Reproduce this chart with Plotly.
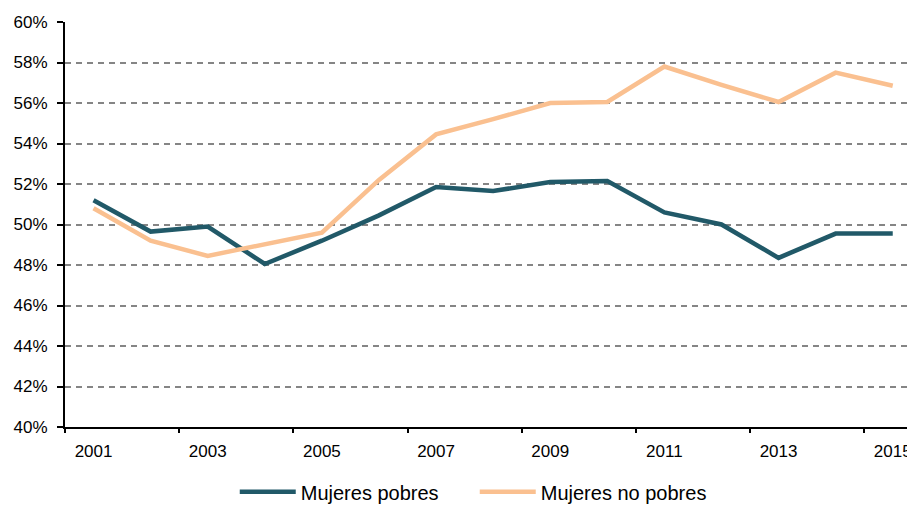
import plotly.graph_objects as go

years = list(range(2001, 2016))
pobres = [51.2, 49.65, 49.9, 48.05, 49.2, 50.45, 51.85, 51.65, 52.1, 52.15, 50.6, 50.0, 48.35, 49.55, 49.55]
no_pobres = [50.8, 49.2, 48.45, 49.0, 49.6, 52.2, 54.45, 55.2, 56.0, 56.05, 57.8, 56.9, 56.05, 57.5, 56.85]
tick_labels = [str(y) for y in years[::2]]
y_ticks = list(range(40, 61, 2))

idx = list(range(len(years)))

fig = go.Figure()
fig.add_trace(go.Scatter(x=idx, y=pobres, mode="lines", name="Mujeres pobres",
                         line=dict(color="#215968", width=4.5)))
fig.add_trace(go.Scatter(x=idx, y=no_pobres, mode="lines", name="Mujeres no pobres",
                         line=dict(color="#FAC090", width=4.5)))
# invisible trace to activate tick-mark axis
fig.add_trace(go.Scatter(x=[idx[0]], y=[pobres[0]], xaxis="x2", mode="markers",
                         marker=dict(opacity=0), showlegend=False, hoverinfo="skip"))

xr = [-0.5, 14.39]
fig.update_layout(
    width=907, height=498,
    margin=dict(l=57, r=0, t=14, b=79, autoexpand=False),
    paper_bgcolor="white", plot_bgcolor="white",
    font=dict(family="Liberation Sans, Arial, sans-serif", size=17, color="black"),
    xaxis=dict(range=xr, tickvals=idx[::2], ticktext=tick_labels, ticks="",
               showgrid=False, showline=True, linecolor="black", linewidth=2,
               zeroline=False, tickfont=dict(size=17), automargin=False,
               ticklabelstandoff=8, ticklabeloverflow="allow"),
    xaxis2=dict(range=xr, overlaying="x", side="bottom",
                tickvals=[i + 1.5 for i in idx[::2]] + [-0.5], ticktext=[""] * 9,
                ticks="outside", ticklen=5, tickwidth=2, tickcolor="black",
                showgrid=False, showline=False, zeroline=False, showticklabels=True,
                automargin=False),
    yaxis=dict(range=[40, 60], tickvals=y_ticks, ticktext=[f"{v}%" for v in y_ticks],
               ticks="outside", ticklen=6, tickwidth=2, tickcolor="black",
               showline=True, linecolor="black", linewidth=2, zeroline=False,
               showgrid=True, gridcolor="#858585", gridwidth=1.5, griddash="6px,5px",
               tickfont=dict(size=17), automargin=False, ticklabelstandoff=6,
               ticklabeloverflow="allow"),
    legend=dict(orientation="h", xref="container", x=0.25, xanchor="left",
                y=-0.112, yanchor="top", font=dict(size=20), tracegroupgap=0,
                itemwidth=56, entrywidth=169),
    showlegend=True,
)

fig.write_html("out.html")
